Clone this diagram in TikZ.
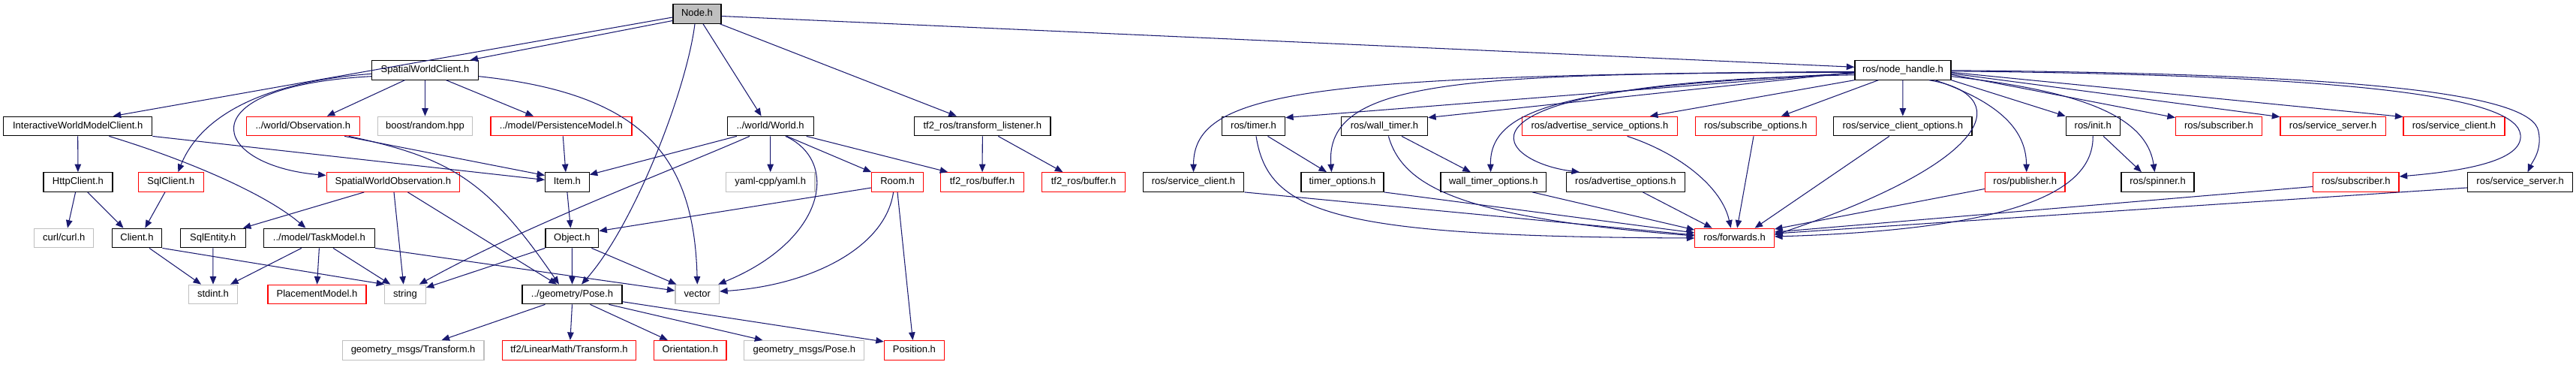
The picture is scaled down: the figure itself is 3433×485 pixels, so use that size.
\documentclass[tikz,border=0pt]{standalone}
\usepackage{fontspec}
\setmainfont{Liberation Sans}
\usetikzlibrary{arrows.meta,calc}
\definecolor{edgec}{HTML}{191970}
\definecolor{grayc}{HTML}{BFBFBF}
\definecolor{redc}{HTML}{FF0000}
\tikzset{
  nbase/.style={rectangle, minimum height=25.6pt, inner sep=0pt, text height=9.4pt, text depth=2.6pt, font=\fontsize{13}{15}\selectfont},
  kbox/.style={nbase, draw=black, line width=1.2pt, fill=white},
  rbox/.style={nbase, draw=redc, line width=1.2pt, fill=white},
  gbox/.style={nbase, draw=grayc, line width=1.2pt, fill=white},
  topbox/.style={nbase, draw=black, line width=1.2pt, fill=grayc},
  ed/.style={draw=edgec, line width=1.05pt, -{Triangle[length=10.5pt,width=8.5pt]}}
}
\begin{document}
\begin{tikzpicture}[x=1pt,y=-1pt]
\fill[white] (0,0) rectangle (3433,485);
\useasboundingbox (0,0) rectangle (3433,485);
% row 1
\node[topbox, minimum width=64pt] (nodeh) at (929,18.5) {Node.h};
% row 2
\node[kbox, minimum width=142pt] (swc) at (566.5,93.3) {SpatialWorldClient.h};
\node[kbox, minimum width=128pt] (nh) at (2535.9,93.3) {ros/node\_handle.h};
% row 3
\node[kbox, minimum width=198pt] (iwmc) at (103.7,168) {InteractiveWorldModelClient.h};
\node[rbox, minimum width=151pt] (obs) at (403.8,168) {../world/Observation.h};
\node[gbox, minimum width=126.5pt] (boost) at (566.5,168) {boost/random.hpp};
\node[rbox, minimum width=188pt] (pers) at (747.9,168) {../model/PersistenceModel.h};
\node[kbox, minimum width=115pt] (world) at (1026.6,168) {../world/World.h};
\node[kbox, minimum width=181.4pt] (tfl) at (1309.3,168) {tf2\_ros/transform\_listener.h};
\node[kbox, minimum width=84pt] (timer) at (1670.5,168) {ros/timer.h};
\node[kbox, minimum width=115pt] (wtimer) at (1845,168) {ros/wall\_timer.h};
\node[rbox, minimum width=206.7pt] (aso) at (2131.9,168) {ros/advertise\_service\_options.h};
\node[rbox, minimum width=161pt] (subo) at (2339.8,168) {ros/subscribe\_options.h};
\node[kbox, minimum width=184.4pt] (sco) at (2535.8,168) {ros/service\_client\_options.h};
\node[kbox, minimum width=72pt] (init) at (2789.2,168) {ros/init.h};
\node[rbox, minimum width=115pt] (sub1) at (2957,168) {ros/subscriber.h};
\node[rbox, minimum width=140.4pt] (ss1) at (3109.1,168) {ros/service\_server.h};
\node[rbox, minimum width=135pt] (sc1) at (3270.5,168) {ros/service\_client.h};
% row 4
\node[kbox, minimum width=92pt] (http) at (103.9,242.5) {HttpClient.h};
\node[rbox, minimum width=87pt] (sqlc) at (227.9,242.5) {SqlClient.h};
\node[rbox, minimum width=177.4pt] (swo) at (523.8,242.5) {SpatialWorldObservation.h};
\node[kbox, minimum width=58.5pt] (item) at (755.9,242.5) {Item.h};
\node[gbox, minimum width=118.7pt] (yaml) at (1026.7,242.5) {yaml-cpp/yaml.h};
\node[rbox, minimum width=68.5pt] (room) at (1196,242.5) {Room.h};
\node[rbox, minimum width=110.6pt] (buf1) at (1309.1,242.5) {tf2\_ros/buffer.h};
\node[rbox, minimum width=111pt] (buf2) at (1444,242.5) {tf2\_ros/buffer.h};
\node[kbox, minimum width=134.7pt] (sc2) at (1590.5,242.5) {ros/service\_client.h};
\node[kbox, minimum width=110pt] (topt) at (1789,242.5) {timer\_options.h};
\node[kbox, minimum width=140.8pt] (wtopt) at (1990.3,242.5) {wall\_timer\_options.h};
\node[kbox, minimum width=157.7pt] (ao) at (2166.4,242.5) {ros/advertise\_options.h};
\node[rbox, minimum width=106.7pt] (pub) at (2698.7,242.5) {ros/publisher.h};
\node[kbox, minimum width=97pt] (spin) at (2875.5,242.5) {ros/spinner.h};
\node[rbox, minimum width=114.5pt] (sub2) at (3139.8,242.5) {ros/subscriber.h};
\node[kbox, minimum width=140.5pt] (ss2) at (3358.6,242.5) {ros/service\_server.h};
% row 5
\node[gbox, minimum width=79pt] (curl) at (85.3,317) {curl/curl.h};
\node[kbox, minimum width=66.5pt] (client) at (182.5,317) {Client.h};
\node[kbox, minimum width=87pt] (sqle) at (283.8,317) {SqlEntity.h};
\node[kbox, minimum width=148pt] (task) at (425.4,317) {../model/TaskModel.h};
\node[kbox, minimum width=70.8pt] (object) at (762.4,317) {Object.h};
\node[rbox, minimum width=105.5pt] (fwd) at (2311.6,317) {ros/forwards.h};
% row 6
\node[gbox, minimum width=65pt] (stdint) at (284,392) {stdint.h};
\node[rbox, minimum width=131pt] (place) at (422.5,392) {PlacementModel.h};
\node[gbox, minimum width=54.4pt] (string) at (540,392) {string};
\node[kbox, minimum width=133pt] (pose) at (762.5,392) {../geometry/Pose.h};
\node[gbox, minimum width=58.5pt] (vector) at (929.3,392) {vector};
% row 7
\node[gbox, minimum width=188.8pt] (gmt) at (550.6,466.3) {geometry\_msgs/Transform.h};
\node[rbox, minimum width=178.7pt] (lmt) at (758.5,466.3) {tf2/LinearMath/Transform.h};
\node[rbox, minimum width=96.4pt] (orient) at (919.8,466.3) {Orientation.h};
\node[gbox, minimum width=160pt] (gmp) at (1071.8,466.3) {geometry\_msgs/Pose.h};
\node[rbox, minimum width=80pt] (pos) at (1218.4,466.3) {Position.h};

% ---- edges: Node.h
\draw[ed] ($(nodeh.west)+(0,4.5)$) -- ($(iwmc.north)+(47,0)$);
\draw[ed] ($(nodeh.west)+(0,9)$) -- ($(swc.north)+(60,0)$);
\draw[ed] ($(nodeh.south)+(-3,0)$) .. controls (915,120) and (845,300) .. ($(pose.north)+(12.5,0)$);
\draw[ed] ($(nodeh.south)+(8,0)$) -- ($(world.north)+(-12,0)$);
\draw[ed] ($(nodeh.south east)+(-2,0)$) -- ($(tfl.north)+(-34.5,0)$);
\draw[ed] ($(nodeh.east)+(0,3)$) -- ($(nh.west)+(0,-4)$);
% SpatialWorldClient
\draw[ed] ($(swc.south)+(-27,0)$) -- ($(obs.north)+(32,0)$);
\draw[ed] (swc.south) -- (boost.north);
\draw[ed] ($(swc.south)+(28,0)$) -- ($(pers.north)+(-37,0)$);
\draw[ed] ($(swc.east)+(0,8.4)$) .. controls (860,125) and (925,210) .. (vector.north);
\draw[ed] ($(swc.west)+(0,5)$) .. controls (340,110) and (265,160) .. ($(sqlc.north)+(9.4,0)$);
\draw[ed] ($(swc.west)+(0,8.4)$) .. controls (245,115) and (280,220) .. ($(swo.west)+(0,-9)$);
% InteractiveWorldModelClient
\draw[ed] (iwmc.south) -- (http.north);
\draw[ed] ($(iwmc.south)+(41.7,0)$) .. controls (240,210) and (350,255) .. ($(task.north)+(-18,0)$);
\draw[ed] (iwmc.south east) -- ($(item.west)+(0,-3)$);
% HttpClient, SqlClient
\draw[ed] ($(http.south)+(-3.3,0)$) -- ($(curl.north)+(4.7,0)$);
\draw[ed] ($(http.south)+(12.8,0)$) -- ($(client.north)+(-18,0)$);
\draw[ed] ($(sqlc.south)+(-8,0)$) -- ($(client.north)+(10.8,0)$);
% SpatialWorldObservation
\draw[ed] ($(swo.south)+(-38.5,0)$) -- ($(sqle.north east)+(-4,0)$);
\draw[ed] ($(swo.south)+(1.2,0)$) -- ($(string.north)+(-2.3,0)$);
\draw[ed] ($(swo.south)+(19.6,0)$) -- ($(pose.north)+(-20.5,0)$);
% Observation
\draw[ed] ($(obs.south)+(55.4,0)$) -- ($(item.west)+(0,-9)$);
\draw[ed] ($(obs.south)+(61,0)$) .. controls (600,210) and (650,240) .. ($(pose.north)+(-17.5,0)$);
% PersistenceModel, Item, Object
\draw[ed] ($(pers.south)+(2.4,0)$) -- ($(item.north)+(-2,0)$);
\draw[ed] (item.south) -- ($(object.north)+(-2,0)$);
\draw[ed] (object.south) -- (pose.north);
\draw[ed] ($(object.south)+(26,0)$) -- ($(vector.north west)+(2,0)$);
\draw[ed] (object.south west) -- ($(string.east)+(0,-9)$);
% World
\draw[ed] ($(world.south)+(-27.6,0)$) .. controls (900,225) and (700,300) .. ($(string.north east)+(-9,0)$);
\draw[ed] ($(world.south)+(-44.8,0)$) -- ($(item.north east)+(0,3.5)$);
\draw[ed] (world.south) -- (yaml.north);
\draw[ed] ($(world.south)+(20.3,0)$) .. controls (1120,215) and (1100,320) .. ($(vector.north east)+(-2,0)$);
\draw[ed] ($(world.south)+(22,0)$) -- (room.north west);
\draw[ed] ($(world.south east)+(-10,0)$) -- ($(buf1.north west)+(10,0)$);
% Room
\draw[ed] ($(room.west)+(0,7.5)$) -- ($(object.north east)+(0,4)$);
\draw[ed] ($(room.south)+(-5.4,0)$) .. controls (1180,330) and (1080,380) .. ($(vector.east)+(0,-4)$);
\draw[ed] (room.south) -- ($(pos.north)+(-2,0)$);
% Pose
\draw[ed] ($(pose.south west)+(31,0)$) -- ($(gmt.north)+(38,0)$);
\draw[ed] (pose.south) -- ($(lmt.north)+(1.4,0)$);
\draw[ed] ($(pose.south)+(24,0)$) -- ($(orient.north)+(-30,0)$);
\draw[ed] ($(pose.south)+(49,0)$) -- ($(gmp.north)+(-55.5,0)$);
\draw[ed] ($(pose.east)+(0,9.7)$) -- ($(pos.north west)+(0,2)$);
% TaskModel, Client, SqlEntity
\draw[ed] ($(task.south)+(-23.6,0)$) -- ($(stdint.north east)+(-10,0)$);
\draw[ed] (task.south) -- (place.north);
\draw[ed] ($(task.south)+(18.6,0)$) -- ($(string.north west)+(8,0)$);
\draw[ed] (task.south east) -- ($(vector.west)+(0,-5)$);
\draw[ed] ($(client.south)+(16.5,0)$) -- ($(stdint.north)+(-16,0)$);
\draw[ed] (client.south east) -- (string.north west);
\draw[ed] (sqle.south) -- (stdint.north);
% transform_listener
\draw[ed] (tfl.south) -- (buf1.north);
\draw[ed] ($(tfl.south)+(21,0)$) -- ($(buf2.north)+(-27.6,0)$);
% node_handle
\draw[ed] ($(nh.west)+(0,2)$) .. controls (1750,100) and (1591,120) .. (sc2.north);
\draw[ed] ($(nh.west)+(0,3.5)$) -- ($(timer.north east)+(0,2)$);
\draw[ed] ($(nh.west)+(0,3)$) .. controls (1950,98) and (1765,105) .. ($(topt.north)+(-14.5,0)$);
\draw[ed] ($(nh.west)+(0,3)$) -- ($(wtimer.north east)+(0,2)$);
\draw[ed] ($(nh.west)+(0,4.5)$) .. controls (2100,115) and (1985,140) .. ($(wtopt.north)+(-3.7,0)$);
\draw[ed] ($(nh.west)+(0,6.5)$) .. controls (1900,110) and (1990,215) .. ($(ao.north west)+(18,0)$);
\draw[ed] (nh.south west) -- ($(aso.north)+(67,0)$);
\draw[ed] ($(nh.south west)+(32,0)$) -- ($(subo.north)+(34,0)$);
\draw[ed] (nh.south) -- (sco.north);
\draw[ed] ($(nh.south)+(35,0)$) .. controls (2680,125) and (2670,210) .. ($(fwd.east)+(0,-4)$);
\draw[ed] ($(nh.south)+(43,0)$) .. controls (2660,135) and (2700,170) .. ($(pub.north)+(2,0)$);
\draw[ed] (nh.south east) -- (init.north west);
\draw[ed] ($(nh.east)+(0,8.4)$) .. controls (2760,120) and (2860,150) .. ($(spin.north)+(-4,0)$);
\draw[ed] ($(nh.east)+(0,6)$) -- ($(sub1.north west)+(0,2)$);
\draw[ed] ($(nh.east)+(0,4.5)$) -- ($(ss1.north west)+(0,1)$);
\draw[ed] ($(nh.east)+(0,3)$) -- ($(sc1.north west)+(0,1)$);
\draw[ed] ($(nh.east)+(0,1.5)$) .. controls (3150,100) and (3355,130) .. (3359,180) .. controls (3362,215) and (3280,228) .. ($(sub2.east)+(0,-7.5)$);
\draw[ed] ($(nh.east)+(0,0.5)$) .. controls (3150,98) and (3375,125) .. (3383,175) .. controls (3388,200) and (3375,215) .. ($(ss2.north)+(10,0)$);
% into forwards
\draw[ed] (sc2.south east) -- ($(fwd.west)+(0,-4)$);
\draw[ed] ($(timer.south)+(3.5,0)$) .. controls (1690,285) and (1780,315) .. ($(fwd.west)+(0,0)$);
\draw[ed] ($(timer.south)+(19,0)$) -- ($(topt.north)+(-21,0)$);
\draw[ed] (topt.south east) -- ($(fwd.west)+(0,-7)$);
\draw[ed] ($(wtimer.south)+(23,0)$) -- ($(wtopt.north)+(-30.5,0)$);
\draw[ed] ($(wtimer.south)+(5.4,0)$) .. controls (1870,250) and (1950,290) .. ($(fwd.west)+(0,-3)$);
\draw[ed] ($(wtopt.south)+(52,0)$) -- ($(fwd.north west)+(0,2.5)$);
\draw[ed] ($(ao.south)+(23,0)$) -- ($(fwd.north)+(-30,0)$);
\draw[ed] ($(aso.south)+(36.7,0)$) .. controls (2240,205) and (2295,250) .. ($(fwd.north)+(-5,0)$);
\draw[ed] ($(subo.south)+(-2.8,0)$) -- ($(fwd.north)+(3.5,0)$);
\draw[ed] ($(sco.south)+(-18,0)$) -- ($(fwd.north)+(27,0)$);
\draw[ed] ($(pub.west)+(0,9)$) -- ($(fwd.east)+(0,-12)$);
\draw[ed] (init.south) .. controls (2790,250) and (2700,305) .. ($(fwd.east)+(0,-2)$);
\draw[ed] ($(init.south)+(14,0)$) -- ($(spin.north)+(-21.6,0)$);
\draw[ed] ($(sub2.west)+(0,6)$) -- ($(fwd.east)+(0,-8)$);
\draw[ed] ($(ss2.west)+(0,7.5)$) -- ($(fwd.east)+(0,-6)$);
\end{tikzpicture}
\end{document}
